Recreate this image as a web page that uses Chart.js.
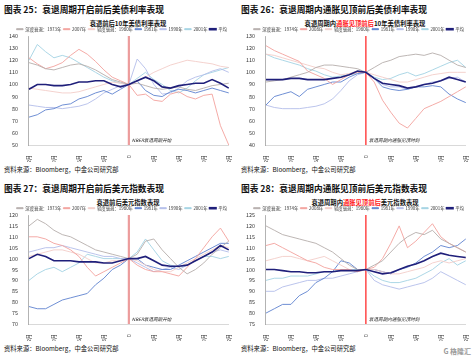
<!DOCTYPE html>
<html><head><meta charset="utf-8">
<script src="https://cdn.jsdelivr.net/npm/chart.js@4.4.0/dist/chart.umd.min.js"></script>
<style>
html,body{margin:0;padding:0;background:#fff;}
body{width:474px;height:358px;overflow:hidden;position:relative;font-family:"Noto Sans CJK SC","Noto Sans",sans-serif;color:#111;}
.panel{position:absolute;width:237px;height:179px;}
.ptitle{position:absolute;left:4px;top:3px;font-size:8.7px;font-weight:bold;white-space:nowrap;}
.ctitle{position:absolute;top:19px;left:20px;width:216px;text-align:center;font-size:6.3px;font-weight:bold;white-space:nowrap;}
.ctitle .r{color:#ff2020;}
.src{position:absolute;left:4px;top:165px;font-size:6.3px;white-space:nowrap;}
canvas{position:absolute;left:0;top:25px;}
.wm{position:absolute;right:3px;bottom:2px;font-size:7px;color:#9a9a9a;font-weight:bold;}
</style>
</head><body>
<div class="panel" style="left:0;top:0">
  <div class="ptitle">图表 25：衰退周期开启前后美债利率表现</div>
  <div class="ctitle">衰退前后10年美债利率表现</div>
  <canvas id="c1" width="237" height="137"></canvas>
  <div class="src">资料来源：Bloomberg，中金公司研究部</div>
</div>
<div class="panel" style="left:237px;top:0">
  <div class="ptitle">图表 26：衰退周期内通胀见顶前后美债利率表现</div>
  <div class="ctitle">衰退周期内<span class="r">通胀见顶前后</span>10年美债利率表现</div>
  <canvas id="c2" width="237" height="137"></canvas>
  <div class="src">资料来源：Bloomberg，中金公司研究部</div>
</div>
<div class="panel" style="left:0;top:179px">
  <div class="ptitle">图表 27：衰退周期开启前后美元指数表现</div>
  <div class="ctitle">衰退前后美元指数表现</div>
  <canvas id="c3" width="237" height="137"></canvas>
  <div class="src">资料来源：Bloomberg，中金公司研究部</div>
</div>
<div class="panel" style="left:237px;top:179px">
  <div class="ptitle">图表 28：衰退周期内通胀见顶前后美元指数表现</div>
  <div class="ctitle">衰退周期内<span class="r">通胀见顶前后</span>美元指数表现</div>
  <canvas id="c4" width="237" height="137"></canvas>
  <div class="src">资料来源：Bloomberg，中金公司研究部</div>
  <div class="wm">G 格隆汇</div>
</div>
<script>
// ---- categories & tick labels ----
const months = [-12,-11,-10,-9,-8,-7,-6,-5,-4,-3,-2,-1,0,1,2,3,4,5,6,7,8,9,10,11,12];
const tickLabels = ['-12月','-9月','-6月','-3月','0','3月','6月','9月','12月'];
const namesA = ['深度衰退：1973年','2007年','轻度衰退：1980年','1981年','1990年','2001年','平均'];
const namesB = ['深度衰退：1974年','2008年','轻度衰退：1980年','1981年','1990年','2001年','平均'];

// ---- 图表25: 衰退前后10年美债利率 ----
const p25_1973 = [118,116,113,112,114,116,117,115,112,108,104,102,100,101,99,97,96,97,98,96,95,97,99,100,101];
const p25_2007 = [122,117,113,115,118,124,129,125,119,112,106,103,100,91,92,87,86,92,94,90,88,91,92,66,50];
const p25_1980 = [97,96,95,94,93,93,94,96,98,100,102,101,100,103,106,110,113,116,118,120,119,118,117,115,114];
const p25_1981 = [73,75,79,80,83,84,88,90,93,95,92,96,100,103,95,91,90,94,96,95,93,95,97,95,93];
const p25_1990 = [83,82,81,81,80,81,82,84,88,93,96,99,100,121,113,100,92,93,97,103,106,108,111,113,110];
const p25_2001 = [120,133,127,122,124,122,118,114,110,106,103,101,100,105,110,104,100,95,93,97,103,108,110,112,114];
const p25_avg  = [96,100,100,99,99,100,102,102,103,103,100,98,100,103,106,103,98,97,99,100,101,101,104,101,97];

// ---- 图表26: 通胀见顶前后10年美债利率 ----
const p26_1974 = [92,93,94,96,98,100,104,106,106,105,104,103,100,104,108,110,113,114,115,114,116,114,110,106,104];
const p26_2008 = [122,118,115,112,109,101,98,95,90,94,98,100,100,92,77,67,58,54,62,70,73,76,80,84,88];
const p26_1980 = [115,114,112,110,108,106,104,103,100,98,99,101,100,98,96,94,92,92,94,96,98,99,100,100,100];
const p26_1981 = [73,80,82,84,80,86,88,90,92,92,96,99,100,95,88,86,85,86,88,88,89,88,82,78,75];
const p26_1990 = [73,71,70,70,70,71,72,74,78,85,93,98,100,95,90,88,88,86,88,90,92,93,95,96,92];
const p26_2001 = [115,112,110,108,106,103,101,98,96,97,98,99,100,96,94,95,98,100,97,99,102,105,108,110,104];
const p26_avg  = [94,94,94,95,95,94,94,94,95,96,98,101,100,95,91,90,89,87,88,90,91,93,96,94,92];

// ---- 图表27: 衰退前后美元指数 ----
const p27_1973 = [115,118,116,113,111,110,108,106,104,103,102,101,100,102,108,109,104,100,96,93,95,98,102,105,108];
const p27_2007 = [110,110,109,107,106,104,101,96,92,94,96,98,100,97,95,94,94,93,92,96,100,105,110,114,108];
const p27_1980 = [101,102,103,104,104,103,102,100,98,98,99,99,100,99,97,95,94,94,96,98,100,102,104,106,105];
const p27_1981 = [78,77,77,79,81,82,83,84,88,91,95,97,100,100,97,96,95,95,97,99,101,103,105,107,107];
const p27_1990 = [103,104,105,105,106,105,104,103,102,101,101,100,100,98,96,94,95,96,95,97,99,101,103,104,103];
const p27_2001 = [90,93,95,96,94,96,98,102,101,100,100,100,100,103,109,104,99,97,96,97,99,101,101,100,101];
const p27_avg  = [100,102,101,99,99,99,98.5,98.5,98.5,98,98,99,100,100,101,99,97,96.5,96.5,97,99,101,103,106,104];

// ---- 图表28: 通胀见顶前后美元指数 ----
const p28_1974 = [120,118,116,115,114,113,112,110,108,105,102,100,100,102,104,108,112,115,117,116,118,114,112,110,108];
const p28_2008 = [111,112,110,108,106,104,103,101,100,100,100,99,100,101,105,112,120,110,113,117,121,115,112,110,108];
const p28_1980 = [104,105,106,106,105,104,105,106,104,102,100,99,100,100,99,98,98,99,100,101,103,104,103,104,105];
const p28_1981 = [80,82,84,84,88,90,94,96,99,104,103,100,100,100,99,98,100,101,103,106,108,111,110,111,114];
const p28_1990 = [90,90,92,93,94,95,95,96,96,97,98,99,100,95,93,92,91,92,93,94,96,99,97,95,93];
const p28_2001 = [95,96,96,97,97,97,98,99,99,100,100,100,100,97,95,94,94,95,96,98,100,103,105,102,104];
const p28_avg  = [100,100,99.5,99,99,98.5,98.5,99,99,99.5,99.5,99.5,100,99,98,98.5,100,101.5,102.5,104,106,107.5,106.5,106,105.5];

// ---- styles ----
const lineColors = ['#b5aeab','#f3a29d','#f3cdc8','#5f82cf','#b3bdea','#a3d3e3','#1f1f7a'];
const lineWidths = [0.9,0.9,0.9,0.9,0.9,0.9,1.6];
const FONT = '"Noto Sans CJK SC","Noto Sans",sans-serif';
Chart.defaults.font.family = FONT;
Chart.defaults.color = '#333';

const markerLine = {
  id: 'markerLine',
  beforeDatasetsDraw(chart, args, o) {
    const {ctx, chartArea, scales} = chart;
    const px = scales.x.getPixelForValue(o.index);
    ctx.save();
    ctx.strokeStyle = o.color; ctx.lineWidth = o.width;
    ctx.beginPath(); ctx.moveTo(px, chartArea.top); ctx.lineTo(px, chartArea.bottom); ctx.stroke();
    ctx.restore();
  },
  afterDatasetsDraw(chart, args, o) {
    const {ctx, chartArea, scales} = chart;
    const px = scales.x.getPixelForValue(o.index);
    ctx.save();
    ctx.font = 'italic 4.6px ' + FONT;
    ctx.fillStyle = '#222'; ctx.textBaseline = 'middle';
    ctx.fillText(o.text, px + 3, chartArea.bottom - 5);
    ctx.restore();
  }
};

function makeChart(id, names, series, yMin, yMax, step, vColor, vWidth, vText) {
  new Chart(document.getElementById(id), {
    type: 'line',
    data: {
      labels: months,
      datasets: series.map((s, i) => ({
        label: names[i], data: s,
        borderColor: lineColors[i], backgroundColor: lineColors[i],
        borderWidth: lineWidths[i], pointRadius: 0, tension: 0,
        order: i === 6 ? 0 : 1
      }))
    },
    options: {
      responsive: false, animation: false, devicePixelRatio: 1,
      layout: {padding: {left: 6, right: 8, top: 0, bottom: 0}},
      plugins: {
        legend: {
          display: true, position: 'top', align: 'end', maxHeight: 11,
          labels: {font: {size: 4.4}, boxWidth: 6.5, boxHeight: 1, padding: 2, color: '#333',
            sort: (a, b) => a.datasetIndex - b.datasetIndex}
        },
        tooltip: {enabled: false},
        markerLine: {index: 12, color: vColor, width: vWidth, text: vText}
      },
      scales: {
        x: {
          grid: {display: false},
          border: {display: true, color: '#cfcfcf', width: 0.8},
          ticks: {autoSkip: false, minRotation: 90, maxRotation: 90, padding: 2,
            font: {size: 5.2}, color: '#333',
            callback: (v, i) => (i % 3 === 0 ? tickLabels[i / 3] : '')},
          afterFit: (s) => { s.height = 17; }
        },
        y: {
          min: yMin, max: yMax,
          grid: {display: false},
          border: {display: true, color: '#a0a0a0', width: 0.8},
          ticks: {stepSize: step, font: {size: 5.4}, color: '#333', padding: 3}
        }
      }
    },
    plugins: [markerLine]
  });
}

makeChart('c1', namesA, [p25_1973,p25_2007,p25_1980,p25_1981,p25_1990,p25_2001,p25_avg], 50, 140, 10, '#ec9c9c', 2.2, 'NBER衰退周期开始');
makeChart('c2', namesB, [p26_1974,p26_2008,p26_1980,p26_1981,p26_1990,p26_2001,p26_avg], 40, 130, 10, '#ff3b3b', 1.4, '衰退周期内通胀见顶时刻');
makeChart('c3', namesA, [p27_1973,p27_2007,p27_1980,p27_1981,p27_1990,p27_2001,p27_avg], 70, 120, 5, '#ec9c9c', 2.2, 'NBER衰退周期开始');
makeChart('c4', namesB, [p28_1974,p28_2008,p28_1980,p28_1981,p28_1990,p28_2001,p28_avg], 75, 125, 5, '#ff3b3b', 1.4, '衰退周期内通胀见顶时刻');
</script>
</body></html>
